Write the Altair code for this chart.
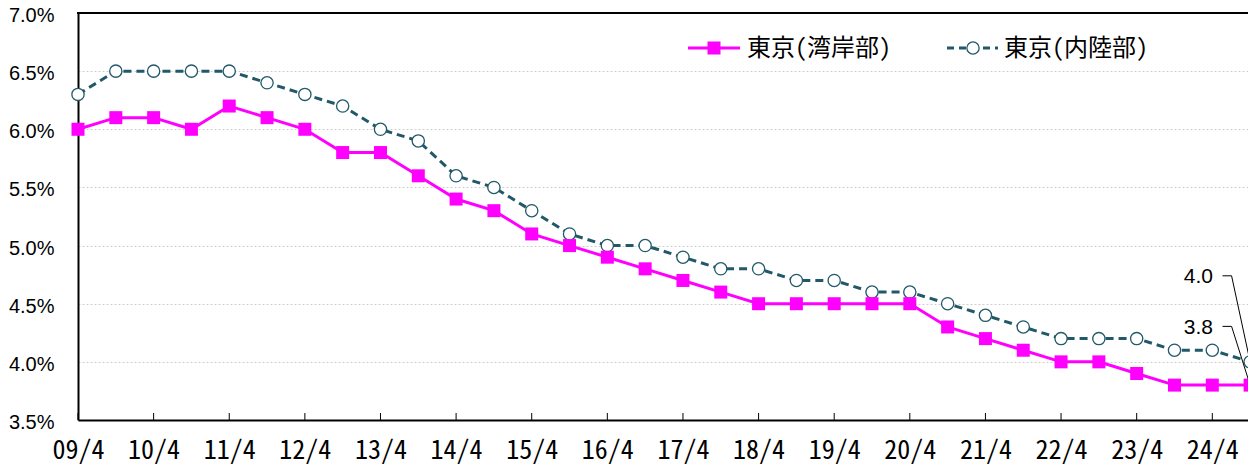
import altair as alt
import pandas as pd

# ---------------- data ----------------
periods = ["09/4", "09/10", "10/4", "10/10", "11/4", "11/10", "12/4", "12/10",
           "13/4", "13/10", "14/4", "14/10", "15/4", "15/10", "16/4", "16/10",
           "17/4", "17/10", "18/4", "18/10", "19/4", "19/10", "20/4", "20/10",
           "21/4", "21/10", "22/4", "22/10", "23/4", "23/10", "24/4", "24/10"]
bay = [6.0, 6.1, 6.1, 6.0, 6.2, 6.1, 6.0, 5.8, 5.8, 5.6, 5.4, 5.3, 5.1, 5.0, 4.9, 4.8,
       4.7, 4.6, 4.5, 4.5, 4.5, 4.5, 4.5, 4.3, 4.2, 4.1, 4.0, 4.0, 3.9, 3.8, 3.8, 3.8]
inland = [6.3, 6.5, 6.5, 6.5, 6.5, 6.4, 6.3, 6.2, 6.0, 5.9, 5.6, 5.5, 5.3, 5.1, 5.0, 5.0,
          4.9, 4.8, 4.8, 4.7, 4.7, 4.6, 4.6, 4.5, 4.4, 4.3, 4.2, 4.2, 4.2, 4.1, 4.1, 4.0]
tick_labels = ["09/4", "10/4", "11/4", "12/4", "13/4", "14/4", "15/4", "16/4",
               "17/4", "18/4", "19/4", "20/4", "21/4", "22/4", "23/4", "24/4"]
series_names = ["東京(湾岸部)", "東京(内陸部)"]
y_ticks = [3.5, 4.0, 4.5, 5.0, 5.5, 6.0, 6.5, 7.0]

PINK = "#FF00FF"
TEAL = "#215968"
JP_FONT = "Noto Sans Mono CJK JP, Noto Sans CJK JP"
NUM_FONT = "Liberation Sans"

W, H = 1170, 407
STEP = 37.81

df_bay = pd.DataFrame({"idx": range(len(periods)), "period": periods, "value": bay})
df_in = pd.DataFrame({"idx": range(len(periods)), "period": periods, "value": inland})
tick_pos = [periods.index(t) for t in tick_labels]
df_ticks = pd.DataFrame({"idx": tick_pos})

label_js = "[" + ",".join("'" + t + "'" for t in tick_labels) + "]"

xscale = alt.Scale(domain=[0, W / STEP], nice=False, zero=False)
yscale = alt.Scale(domain=[3.5, 7.0], nice=False, zero=False)

x_axis = alt.Axis(values=tick_pos, labelExpr=f"{label_js}[datum.value/2]",
                  title=None, grid=False, ticks=False, domainColor="black",
                  domainWidth=2, labelFont=JP_FONT, labelFontSize=26,
                  labelColor="black", labelPadding=17, labelFlush=False)
y_axis = alt.Axis(values=y_ticks, labelExpr="format(datum.value,'.1f')+'%'",
                  title=None, grid=True, gridColor="#cfcfcf", gridDash=[2, 2],
                  gridWidth=1, ticks=False, domainColor="black", domainWidth=2,
                  labelFont=NUM_FONT, labelFontSize=20, labelColor="black",
                  labelPadding=24, labelOffset=2.5, labelFlush=False)


def X(field="idx"):
    return alt.X(f"{field}:Q", scale=xscale, axis=x_axis)


def Y(field="value"):
    return alt.Y(f"{field}:Q", scale=yscale, axis=y_axis)


# top frame line
frame = alt.Chart(pd.DataFrame({"k": [0]})).mark_rule(color="black", strokeWidth=2).encode(
    x=alt.value(-1), x2=alt.value(W + 10), y=alt.value(0))

in_line = alt.Chart(df_in).mark_line(color=TEAL, strokeWidth=3, strokeDash=[8, 5]).encode(x=X(), y=Y())
in_pts = alt.Chart(df_in).mark_point(shape="circle", filled=True, fill="white", stroke=TEAL,
                                     strokeWidth=1.3, size=150, opacity=1).encode(x=X(), y=Y())
bay_line = alt.Chart(df_bay).mark_line(color=PINK, strokeWidth=3).encode(x=X(), y=Y())
bay_pts = alt.Chart(df_bay).mark_square(color=PINK, size=169, opacity=1).encode(x=X(), y=Y())

# inner tick marks on the x axis
ticks = alt.Chart(df_ticks).mark_rule(color="black", strokeWidth=1).encode(
    x=X(), y=alt.value(H), y2=alt.value(H - 7))

# end-value annotations with leader lines
last = len(periods) - 1
ann = pd.DataFrame({"idx": [last, last], "value": [inland[-1], bay[-1]]})
ann["label"] = ann["value"].map(lambda v: f"{v:.1f}")
ann["ly"] = [inland[-1] + 0.74, bay[-1] + 0.505]
ann["tx"] = last - 0.98
ann["sx1"] = last - 0.73
ann["sx2"] = last - 0.49

ann_text = alt.Chart(ann).mark_text(align="right", baseline="middle", font=NUM_FONT,
                                    fontSize=21, color="black", dy=1.5).encode(
    x=X("tx"), y=Y("ly"), text="label:N")
ann_seg = alt.Chart(ann).mark_rule(color="black", strokeWidth=1).encode(
    x=X("sx1"), x2="sx2:Q", y=Y("ly"), y2="ly:Q")
ann_lead = alt.Chart(ann).mark_rule(color="black", strokeWidth=1).encode(
    x=X("sx2"), x2="idx:Q", y=Y("ly"), y2="value:Q")

# legend (drawn inside the plot, top right)
leg_y = 35
one = pd.DataFrame({"k": [0]})
lg_pink_line = alt.Chart(one).mark_rule(color=PINK, strokeWidth=3).encode(
    x=alt.value(610), x2=alt.value(662), y=alt.value(leg_y))
lg_pink_sq = alt.Chart(one).mark_square(color=PINK, size=169, opacity=1).encode(
    x=alt.value(636), y=alt.value(leg_y))
lg_teal_line = alt.Chart(one).mark_rule(color=TEAL, strokeWidth=3, strokeDash=[7, 5]).encode(
    x=alt.value(869), x2=alt.value(920), y=alt.value(leg_y))
lg_teal_c = alt.Chart(one).mark_point(shape="circle", filled=True, fill="white", stroke=TEAL,
                                      strokeWidth=1.3, size=150, opacity=1).encode(
    x=alt.value(895), y=alt.value(leg_y))
lg_text1 = alt.Chart(pd.DataFrame({"t": [series_names[0]]})).mark_text(
    align="left", baseline="middle", font=JP_FONT, fontSize=24, color="black").encode(
    x=alt.value(669), y=alt.value(leg_y + 1), text="t:N")
lg_text2 = alt.Chart(pd.DataFrame({"t": [series_names[1]]})).mark_text(
    align="left", baseline="middle", font=JP_FONT, fontSize=24, color="black").encode(
    x=alt.value(926), y=alt.value(leg_y + 1), text="t:N")

chart = alt.layer(
    ticks, in_line, in_pts, bay_line, bay_pts,
    ann_seg, ann_lead, ann_text, frame,
    lg_pink_line, lg_pink_sq, lg_teal_line, lg_teal_c, lg_text1, lg_text2,
).properties(
    width=W, height=H,
    autosize=alt.AutoSizeParams(type="none"),
    padding={"left": 70, "top": 5, "right": 0, "bottom": 45},
    background="white",
).configure_view(stroke=None)

chart.save("out.html", embed_options={"renderer": "svg", "actions": False})
